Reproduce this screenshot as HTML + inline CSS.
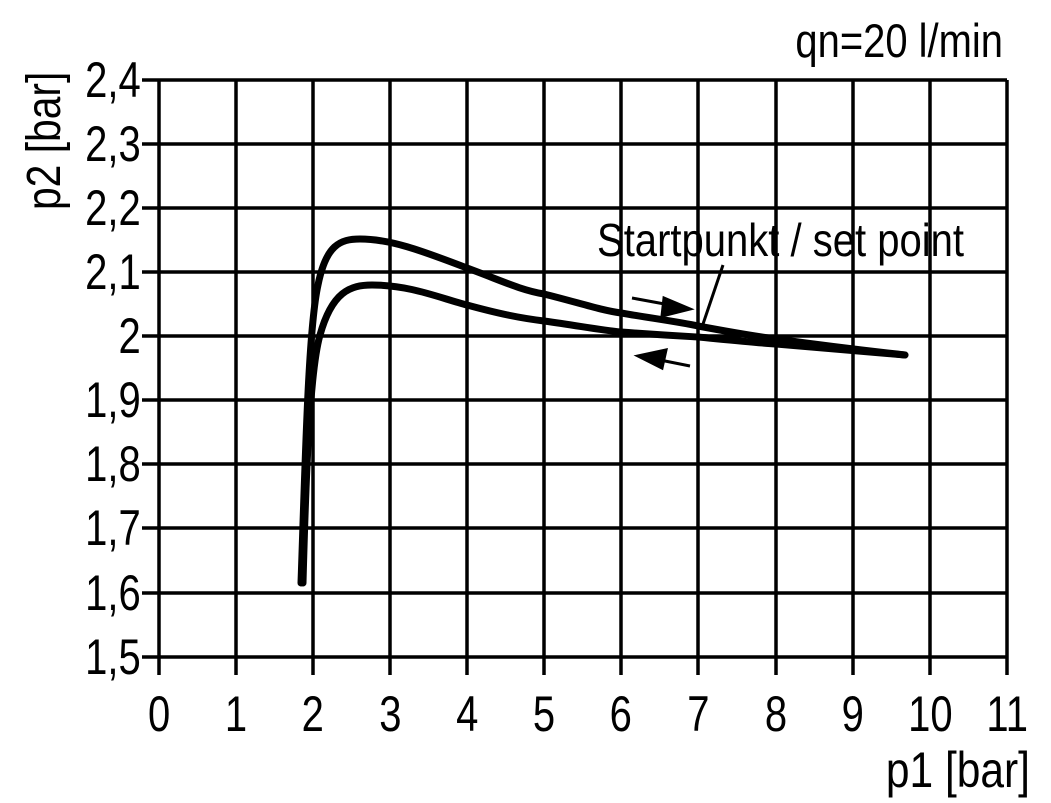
<!DOCTYPE html>
<html><head><meta charset="utf-8"><style>html,body{margin:0;padding:0;background:#fff}svg{display:block}</style></head>
<body>
<svg width="1051" height="803" viewBox="0 0 1051 803" xmlns="http://www.w3.org/2000/svg" font-family="Liberation Sans, sans-serif">
<g stroke="#000" stroke-width="3.5" fill="none">
<path d="M159 80V675M236 80V675M313 80V675M390 80V675M467 80V675M544 80V675M621 80V675M698 80V675M776 80V675M853 80V675M930 80V675M1007 80V675"/>
<path d="M142 80H1007M142 144H1007M142 208H1007M142 272H1007M142 336H1007M142 400H1007M142 464H1007M142 528H1007M142 593H1007M142 657H1007"/>
</g>
<g stroke="#000" stroke-width="7" fill="none" stroke-linecap="round" stroke-linejoin="round">
<path d="M301 583 C305 470 308 330 318 285 C326 245 340 239 360 239 C390 239 420 250 467 268 C500 280 520 290 544 294 C580 303 600 310 621 313 C650 318 680 322 698 326 C730 332 760 337 776 339 C820 345 860 350 905 355"/>
<path d="M303 583 C306 470 310 370 320 335 C332 292 350 285 372 285 C410 285 440 298 467 305 C500 314 520 318 544 321 C580 326 600 330 621 332 C660 335 680 336 698 337 C740 341 760 343 776 344 C820 348 860 351 905 355"/>
</g>
<g stroke="#000" stroke-width="3" fill="#000">
<path d="M632 298 L670 305" fill="none"/><path d="M690 309 L664 298 L662 316 Z"/>
<path d="M690 366 L660 360" fill="none"/><path d="M638 356 L666 350 L662 368 Z"/>
<path d="M723 265 L702 327" fill="none"/>
</g>
<g font-size="50" fill="#000" text-anchor="middle">
<g transform="scale(0.8,1)">
<text x="199" y="731">0</text><text x="295" y="731">1</text><text x="391" y="731">2</text><text x="488" y="731">3</text><text x="584" y="731">4</text><text x="680" y="731">5</text><text x="776" y="731">6</text><text x="873" y="731">7</text><text x="970" y="731">8</text><text x="1066" y="731">9</text><text x="1163" y="731">10</text><text x="1259" y="731">11</text>
</g>
<g transform="scale(0.8,1)" text-anchor="end">
<text x="176" y="97">2,4</text><text x="176" y="161">2,3</text><text x="176" y="225">2,2</text><text x="176" y="289">2,1</text><text x="176" y="353">2</text><text x="176" y="417">1,9</text><text x="176" y="481">1,8</text><text x="176" y="545">1,7</text><text x="176" y="610">1,6</text><text x="176" y="674">1,5</text>
</g>
</g>
<g fill="#000">
<text transform="translate(1003,57) scale(0.85,1)" x="0" y="0" text-anchor="end" font-size="47">qn=20 l/min</text>
<text transform="translate(1030,787) scale(0.85,1)" x="0" y="0" text-anchor="end" font-size="50">p1 [bar]</text>
<text transform="translate(597,256) scale(0.87,1)" x="0" y="0" font-size="46">Startpunkt / set point</text>
<text transform="translate(60,210) rotate(-90) scale(0.85,1)" x="0" y="0" font-size="48">p2 [bar]</text>
</g>
</svg>
</body></html>
